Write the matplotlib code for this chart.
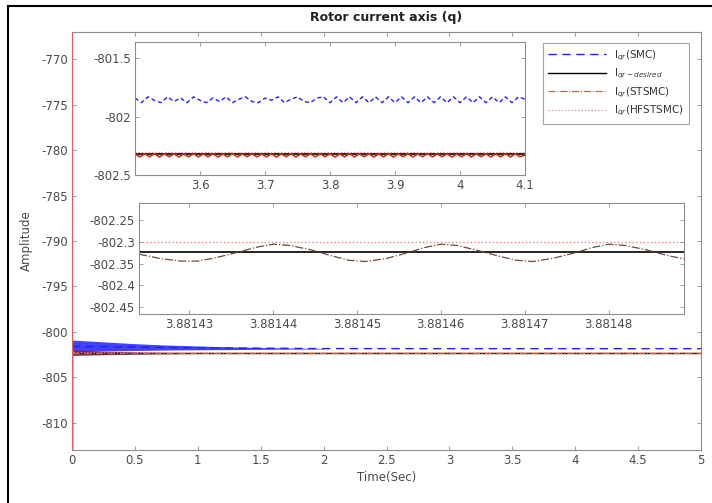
import numpy as np
import matplotlib.pyplot as plt
from matplotlib.lines import Line2D

plt.rcParams['axes.unicode_minus'] = False

# main panel (0 - 5 s)
t_line = [0, 1.0, 2.0, 3.0, 4.0, 5.0]
smc_main = [-801.6, -801.75, -801.84, -801.85, -801.85, -801.85]
stsmc_main = [-802.33, -802.33, -802.33, -802.33, -802.33, -802.33]

# oscillation envelopes at the start
t_band = [0, 0.25, 0.5, 0.75, 1.0, 1.25, 1.5, 1.75, 2.0]
smc_hi = [-800.9, -801.1, -801.3, -801.45, -801.55, -801.65, -801.72, -801.78, -801.82]
smc_lo = [-802.2, -802.1, -802.05, -802.0, -801.97, -801.95, -801.92, -801.9, -801.88]
st_hi = [-802.0, -802.12, -802.2, -802.26, -802.29, -802.31, -802.31, -802.32, -802.32]
st_lo = [-802.6, -802.52, -802.46, -802.41, -802.38, -802.36, -802.35, -802.34, -802.34]

t_des = [0, 5]
desired = [-802.323, -802.323]

t_hf = [0, 0.002, 0.004, 0.01, 5]
hfstsmc = [-740, -840, -802.1, -802.30, -802.30]

# zoom 1 (3.5 - 4.1 s)
smc_zoom = [-801.84, -801.88, -801.83, -801.86, -801.88, -801.83, -801.87, -801.84, -801.88, -801.83,
            -801.86, -801.88, -801.84, -801.87, -801.83, -801.88, -801.85, -801.83, -801.87, -801.88,
            -801.84, -801.86, -801.83, -801.88, -801.85, -801.83, -801.87, -801.88, -801.84, -801.83,
            -801.88, -801.83, -801.88, -801.83, -801.88, -801.83, -801.88, -801.83, -801.88, -801.83,
            -801.88, -801.83, -801.88, -801.83, -801.88, -801.83, -801.88, -801.83, -801.88, -801.83,
            -801.88, -801.83, -801.88, -801.83, -801.88, -801.83, -801.88, -801.83, -801.88, -801.83,
            -801.85]
st_zoom = [-802.32, -802.345, -802.318, -802.344, -802.317, -802.346, -802.319, -802.343, -802.318, -802.345,
           -802.32, -802.344, -802.317, -802.345, -802.319, -802.343, -802.318, -802.346, -802.32, -802.344,
           -802.317, -802.345, -802.319, -802.343, -802.318, -802.345, -802.32, -802.344, -802.317, -802.346,
           -802.319, -802.343, -802.318, -802.345, -802.32, -802.344, -802.317, -802.345, -802.319, -802.343,
           -802.318, -802.346, -802.32, -802.344, -802.317, -802.345, -802.319, -802.343, -802.318, -802.345,
           -802.32, -802.344, -802.317, -802.346, -802.319, -802.343, -802.318, -802.345, -802.32, -802.344,
           -802.317, -802.345, -802.319, -802.343, -802.318, -802.346, -802.32, -802.344, -802.317, -802.345,
           -802.319, -802.343, -802.318, -802.345, -802.32, -802.344, -802.317, -802.346, -802.319, -802.343,
           -802.33]

# zoom 2 (3.88142 - 3.88149 s)
t_z2 = [3.881424, 3.8814265, 3.881429, 3.881431, 3.881433, 3.8814355, 3.881438, 3.88144, 3.881442, 3.8814445,
        3.881447, 3.881449, 3.881451, 3.8814535, 3.881456, 3.881458, 3.88146, 3.881462, 3.8814645, 3.881467,
        3.881469, 3.881471, 3.8814735, 3.881476, 3.881478, 3.88148, 3.881482, 3.8814845, 3.881487, 3.881489]
st_z2 = [-802.328, -802.338, -802.344, -802.344, -802.337, -802.325, -802.312, -802.305, -802.308, -802.318,
         -802.332, -802.342, -802.345, -802.338, -802.325, -802.313, -802.305, -802.308, -802.32, -802.333,
         -802.342, -802.345, -802.337, -802.325, -802.313, -802.305, -802.308, -802.318, -802.331, -802.339]

main_xticks = [0, 0.5, 1, 1.5, 2, 2.5, 3, 3.5, 4, 4.5, 5]
main_xlabels = ['0', '0.5', '1', '1.5', '2', '2.5', '3', '3.5', '4', '4.5', '5']
main_yticks = [-810, -805, -800, -795, -790, -785, -780, -775, -770]
z1_xticks = [3.6, 3.7, 3.8, 3.9, 4.0, 4.1]
z1_xlabels = ['3.6', '3.7', '3.8', '3.9', '4', '4.1']
z1_yticks = [-802.5, -802, -801.5]
z1_ylabels = ['-802.5', '-802', '-801.5']
z2_xticks = [3.88143, 3.88144, 3.88145, 3.88146, 3.88147, 3.88148]
z2_xlabels = ['3.88143', '3.88144', '3.88145', '3.88146', '3.88147', '3.88148']
z2_yticks = [-802.45, -802.4, -802.35, -802.3, -802.25]
z2_ylabels = ['-802.45', '-802.4', '-802.35', '-802.3', '-802.25']

c_smc = '#2020ff'
c_st = '#c0602a'
c_hf = '#f08080'
grey = '#8c8c8c'
txt = '#4a4a4a'

W, H = 712, 503
fig = plt.figure(figsize=(W / 100, H / 100), dpi=100)


def box(l, r, t, b):
    return [l / W, 1 - b / H, (r - l) / W, (b - t) / H]


def style(a):
    a.tick_params(direction='in', top=True, right=True, length=3, width=0.6,
                  colors=grey, labelcolor=txt, labelsize=8.5, pad=3)
    for s in a.spines.values():
        s.set_color(grey)
        s.set_linewidth(0.8)


ax = fig.add_axes(box(72, 701, 32, 450))
ax.fill_between(t_band, smc_lo, smc_hi, color=c_smc, alpha=0.85, lw=0)
ax.fill_between(t_band, st_lo, st_hi, color='#7a1a50', alpha=0.85, lw=0)
ax.plot(t_line, smc_main, color=c_smc, ls=(0, (6, 4)), lw=1.0, label=r'I$_{qr}$(SMC)')
ax.plot(t_des, desired, color='k', lw=1.0, label=r'I$_{qr-desired}$')
ax.plot(t_line, stsmc_main, color=c_st, ls='-.', lw=0.8, label=r'I$_{qr}$(STSMC)')
ax.plot(t_hf, hfstsmc, color=c_hf, ls=':', lw=0.9, label=r'I$_{qr}$(HFSTSMC)')
# start-up spike drawn over the left spine
ax.plot(t_hf[:4], hfstsmc[:4], color='#e06060', lw=1.3, zorder=4)
ax.set_xlim(0, 5)
ax.set_ylim(-813, -767)
ax.set_xticks(main_xticks)
ax.set_xticklabels(main_xlabels)
ax.set_yticks(main_yticks)
style(ax)
ax.set_xlabel('Time(Sec)', fontsize=8.5, color=txt, labelpad=3)
ax.set_ylabel('Amplitude', fontsize=8.5, color=txt, labelpad=6)
ax.set_title('Rotor current axis (q)', fontsize=9, fontweight='bold', color='#222222', pad=8)

leg = ax.legend(loc='upper right', bbox_to_anchor=(689 / W, 1 - 43 / H),
                bbox_transform=fig.transFigure, fontsize=7.5, frameon=True, borderaxespad=0,
                fancybox=False, handlelength=5.5, labelspacing=0.4, borderpad=0.5)
leg.get_frame().set_edgecolor(grey)
leg.get_frame().set_linewidth(0.8)
for t in leg.get_texts():
    t.set_color('#333333')

# zoom 1
a1 = fig.add_axes(box(135, 525, 42, 175))
a1.plot(np.linspace(3.5, 4.1, len(smc_zoom)), smc_zoom, color=c_smc, ls=(0, (3, 2)), lw=1.0)
a1.plot(t_des, desired, color='k', lw=1.2)
a1.plot(np.linspace(3.5, 4.1, len(st_zoom)), st_zoom, color='#c83010', lw=1.2)
a1.plot(t_hf, hfstsmc, color=c_hf, ls=':', lw=0.9)
a1.set_xlim(3.5, 4.1)
a1.set_ylim(-802.5, -801.36)
a1.set_xticks(z1_xticks)
a1.set_xticklabels(z1_xlabels)
a1.set_yticks(z1_yticks)
a1.set_yticklabels(z1_ylabels)
style(a1)

# zoom 2
a2 = fig.add_axes(box(139, 684, 203, 314))
a2.plot(t_hf, hfstsmc, color=c_hf, ls=':', lw=1.0)
a2.plot(t_des, desired, color='k', lw=1.2)
a2.plot(t_z2, st_z2, color='#6a4a3a', ls='-.', lw=0.9)
a2.set_xlim(3.881424, 3.881489)
a2.set_ylim(-802.466, -802.21)
a2.set_xticks(z2_xticks)
a2.set_xticklabels(z2_xlabels)
a2.set_yticks(z2_yticks)
a2.set_yticklabels(z2_ylabels)
style(a2)

# page frame
fig.add_artist(Line2D([8 / W, 8 / W], [0, 1 - 6 / H], transform=fig.transFigure, color='k', lw=1.5))
fig.add_artist(Line2D([8 / W, 1], [1 - 6 / H, 1 - 6 / H], transform=fig.transFigure, color='k', lw=1.5))

fig.savefig('out.png', dpi=100)
